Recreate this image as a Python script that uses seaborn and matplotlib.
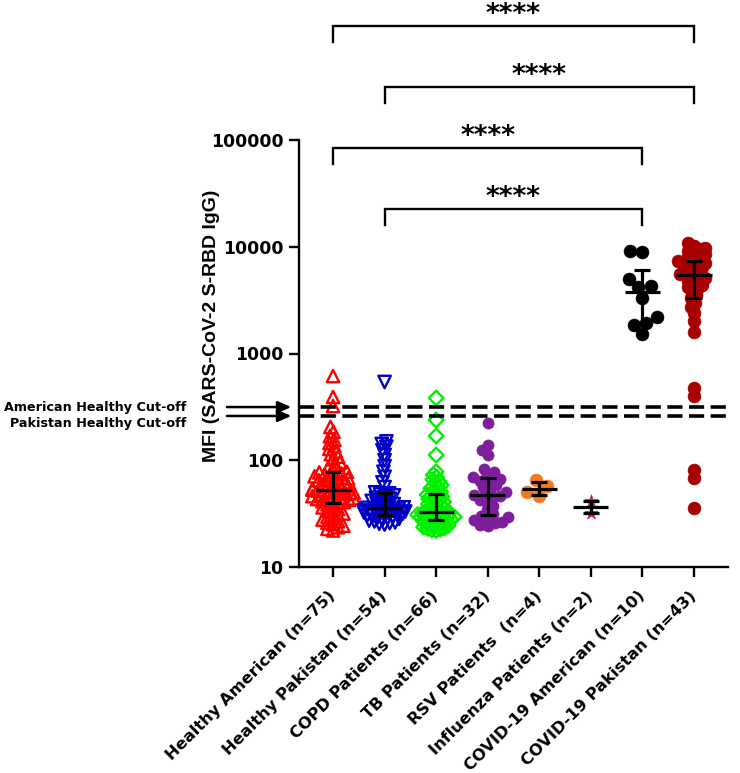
import numpy as np
import pandas as pd
import matplotlib
matplotlib.use("Agg")
import matplotlib.pyplot as plt
from matplotlib.ticker import FixedLocator, FuncFormatter, NullLocator
import seaborn as sns

# ---------------- data ----------------
categories = [
    "Healthy American (n=75)",
    "Healthy Pakistan (n=54)",
    "COPD Patients (n=66)",
    "TB Patients (n=32)",
    "RSV Patients  (n=4)",
    "Influenza Patients (n=2)",
    "COVID-19 American (n=10)",
    "COVID-19 Pakistan (n=43)",
]

healthy_american = [22, 22.8, 23.6, 24.4, 25.2, 26, 26.9, 27.8, 28.7, 29.7, 30.7, 31.7,
                    32.8, 33.9, 35, 36.2, 37.4, 38.7,
                    40,
                    40.6, 41.3, 42, 42.6, 43.3, 44, 44.7, 45.4, 46.1, 46.8, 47.5, 48.3,
                    49, 49.8, 50.5, 51.3, 52, 52.6,
                    53,
                    53.8, 55, 56.2, 57.4, 58.6, 59.8, 61, 62.3, 63.6, 65, 66.4, 67.8,
                    69.2, 70.7, 72.2, 73.7, 75.3, 76.9,
                    78,
                    81, 86, 91, 96, 102, 108, 114, 121, 128, 136, 145, 155, 168, 185, 205,
                    322, 392, 615]
healthy_pakistan = [25, 25.4, 25.8, 26.2, 26.7, 27.2, 27.7, 28.2, 28.7, 29.2, 29.7, 30.2, 30.7,
                    31,
                    31.4, 31.7, 32.1, 32.4, 32.8, 33.1, 33.5, 33.8, 34.2, 34.6, 35, 35.4, 35.8,
                    36.2,
                    37, 37.9, 38.8, 39.7, 40.6, 41.6, 42.6, 43.6, 44.6, 45.7, 46.8, 47.9, 49,
                    50,
                    56, 62, 70, 78, 88, 100, 112, 124, 134, 142, 150,
                    541]
copd = [22, 22.3, 22.6, 23, 23.3, 23.7, 24, 24.4, 24.7, 25.1, 25.5, 25.8, 26.2, 26.6, 27, 27.3,
        27.6,
        27.9, 28.2, 28.5, 28.8, 29.1, 29.4, 29.7, 30, 30.3, 30.6, 30.9, 31.2, 31.5, 31.8,
        32.2, 32.6,
        33.4,
        34, 34.8, 35.6, 36.4, 37.2, 38, 38.9, 39.8, 40.7, 41.6, 42.6, 43.6, 44.6, 45.6,
        46.6, 47.6,
        48.5,
        50.5, 52.5, 54.5, 56.5, 58.5, 61, 63.5, 66, 69, 73, 78,
        112, 169, 238, 383]
tb = [24, 24.8, 25.6, 26.4, 27.3, 28.2, 29.2, 30.2,
      31.3,
      34, 37, 40, 42.5, 44.5, 46, 46.8,
      47.2,
      50, 53, 56, 59, 62, 64.5, 67,
      69,
      72, 77, 83,
      112, 125, 139, 223]
rsv = [46, 50, 57, 65]
influenza = [32, 41.5]
covid_american = [1530, 1850, 1950, 2200, 3300, 4200, 4300, 5000, 9000, 9200]
covid_pakistan = [36, 68, 81, 400, 475,
                  1600, 2000, 2400, 2700, 3000, 3300,
                  3500, 3800, 4000, 4200, 4400, 4600, 4800, 5000, 5100, 5300,
                  5430,
                  5600, 5800, 6000, 6200, 6400, 6600, 6800, 7000, 7100, 7300,
                  7400,
                  7700, 8000, 8300, 8600, 8900, 9200, 9500, 9800, 10200, 10800]

group_values = [healthy_american, healthy_pakistan, copd, tb, rsv, influenza,
                covid_american, covid_pakistan]

colors = ["#FF0000", "#0000C8", "#00F000", "#7E1E9E", "#F57A1E", "#D2186E",
          "#000000", "#A80000"]
markers = ["^", "v", "D", "o", "o", "*", "o", "o"]
hollow = [True, True, True, False, False, False, False, False]
layout_sizes = [4.0, 3.7, 3.0, 5.2, 9.0, 8.5, 8.5, 4.3]
final_sizes = [80, 80, 55, 64, 85, 95, 85, 85]

american_cutoff = 315
pakistan_cutoff = 260

comparisons = [(1, 6), (0, 6), (1, 7), (0, 7)]  # (group a, group b), bottom -> top
sig_label = "****"

y_ticks = [10, 100, 1000, 10000, 100000]

# ---------------- figure ----------------
plt.rcParams["font.family"] = ["DejaVu Sans"]
plt.rcParams["font.weight"] = "bold"

fig = plt.figure(figsize=(7.4, 7.73), dpi=100)
ax = fig.add_axes([299 / 740, 1 - 567 / 773, (728 - 299) / 740, (567 - 140) / 773])
ax.set_yscale("log")
ax.set_ylim(10, 100000)

swarm_colls = []
for cat, vals, col, mk, ls in zip(categories, group_values, colors, markers, layout_sizes):
    df = pd.DataFrame({"group": [cat] * len(vals), "value": vals})
    n0 = len(ax.collections)
    sns.swarmplot(data=df, x="group", y="value", order=categories, color=col,
                  marker=mk, size=ls, linewidth=0, ax=ax, warn_thresh=1.0,
                  zorder=3)
    swarm_colls.append(ax.collections[n0:])

ax.set_xlim(-0.66, 7.66)
ax.set_ylim(10, 100000)

# median + IQR
xpos = np.arange(len(categories))
med = np.array([np.median(v) for v in group_values])
q1 = np.array([np.percentile(v, 25, method="weibull") for v in group_values])
q3 = np.array([np.percentile(v, 75, method="weibull") for v in group_values])
ax.errorbar(xpos, med, yerr=[med - q1, q3 - med], fmt="none", ecolor="black",
            elinewidth=2.3, capsize=6.0, capthick=2.3, zorder=5)
ax.hlines(med, xpos - 0.34, xpos + 0.34, color="black", lw=2.3, zorder=5)

# cut-off lines
for c in (american_cutoff, pakistan_cutoff):
    ax.axhline(c, color="black", lw=2.6, ls=(0, (4.2, 1.8)), zorder=4)

# arrows + labels at left
for c, dy, txt in ((american_cutoff, 0, "American Healthy Cut-off"),
                   (pakistan_cutoff, -8, "Pakistan Healthy Cut-off")):
    ax.annotate("", xy=(-0.018, c), xycoords=("axes fraction", "data"),
                xytext=(-0.168, c), textcoords=("axes fraction", "data"),
                arrowprops=dict(arrowstyle="-|>,head_length=0.8,head_width=0.35",
                                color="black", lw=1.8, shrinkA=0, shrinkB=0),
                annotation_clip=False)
    ax.annotate(txt, xy=(-0.263, c), xycoords=("axes fraction", "data"),
                xytext=(0, dy), textcoords="offset pixels", ha="right", va="center",
                fontsize=9.2, fontweight="bold", annotation_clip=False)

# significance brackets
base, step, leg = 4.354, 0.571, 0.15
for i, (a, b) in enumerate(comparisons):
    yl = base + i * step
    ax.plot([a, a, b, b], [10 ** (yl - leg), 10 ** yl, 10 ** yl, 10 ** (yl - leg)],
            color="black", lw=1.7, clip_on=False, solid_joinstyle="miter")
    ax.text((a + b) / 2, 10 ** (yl + 0.035), sig_label, ha="center", va="baseline",
            fontsize=19, fontweight="bold", clip_on=False)

# axes styling
sns.despine(ax=ax)
for s in ("left", "bottom"):
    ax.spines[s].set_linewidth(1.7)
ax.yaxis.set_major_locator(FixedLocator(y_ticks))
ax.yaxis.set_minor_locator(NullLocator())
ax.yaxis.set_major_formatter(FuncFormatter(lambda v, p: f"{int(round(v))}"))
ax.tick_params(axis="both", which="major", length=7.2, width=1.7, direction="out")
ax.tick_params(axis="y", labelsize=12.4, pad=4)
ax.tick_params(axis="x", labelsize=11.7, pad=12)
ax.set_xlabel("")
ax.set_xticks(xpos)
ax.set_xticklabels(categories, fontweight="bold")
for lab in ax.get_xticklabels():
    lab.set_rotation(45)
    lab.set_ha("right")
    lab.set_va("center")
    lab.set_rotation_mode("anchor")
for lab in ax.get_yticklabels():
    lab.set_fontweight("bold")
ax.set_ylabel("MFI (SARS-CoV-2 S-RBD IgG)", fontsize=14, fontweight="bold",
              family=["Liberation Sans", "DejaVu Sans"])
ax.yaxis.set_label_coords(-0.183, 0.564)

# lay out the swarms, then enlarge markers to their final look
fig.canvas.draw()
for colls, col, hol, fs in zip(swarm_colls, colors, hollow, final_sizes):
    for coll in colls:
        if "draw" in coll.__dict__:
            del coll.draw
        coll.set_sizes([fs])
        if hol:
            coll.set_facecolor("none")
            coll.set_edgecolor(col)
            coll.set_linewidth(1.7)
        else:
            coll.set_facecolor(col)
            coll.set_edgecolor(col)
            coll.set_linewidth(0.5)

fig.savefig("out.png", dpi=100)
